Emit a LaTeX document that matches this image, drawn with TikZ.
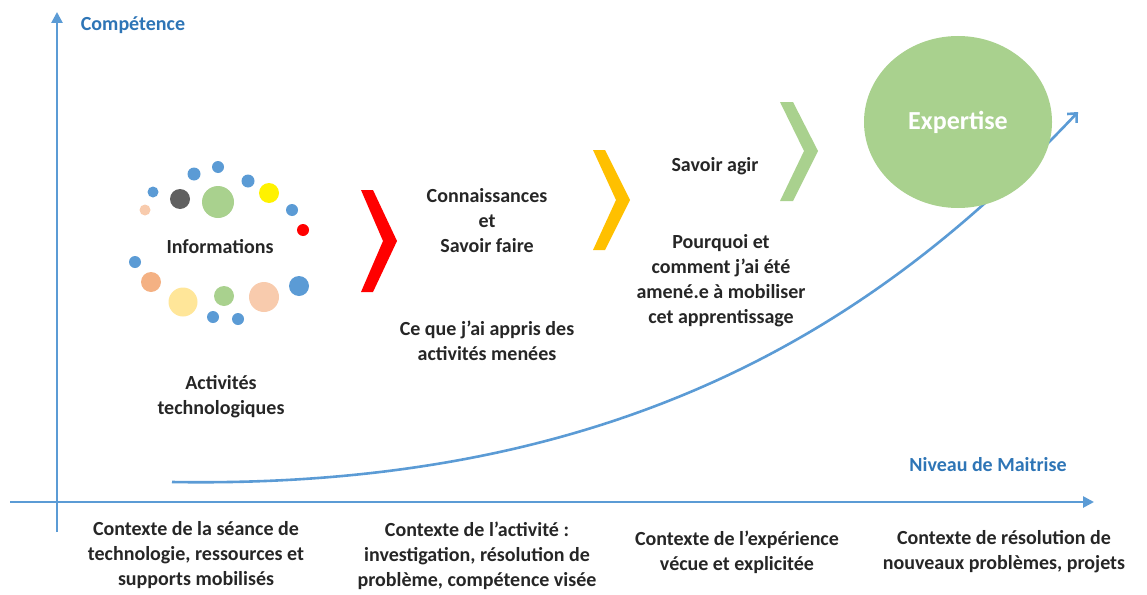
\documentclass[tikz,border=0pt]{standalone}
\usepackage{fontspec}
\setmainfont{Carlito}
\usetikzlibrary{arrows.meta, shapes.geometric}

\definecolor{axisblue}{HTML}{5B9BD5}
\definecolor{labelblue}{HTML}{2E75B6}
\definecolor{dotblue}{HTML}{5B9BD5}
\definecolor{dotgreen}{HTML}{A9D18E}
\definecolor{dotgrey}{HTML}{606060}
\definecolor{dotpeach}{HTML}{F8CBAD}
\definecolor{dotorange}{HTML}{F4B183}
\definecolor{dotcream}{HTML}{FFE699}
\definecolor{chevred}{HTML}{FF0000}
\definecolor{chevyellow}{HTML}{FFC000}
\definecolor{chevgreen}{HTML}{A9D18E}

\tikzset{
    txt/.style={font=\fontsize{20}{25}\selectfont\bfseries, align=center, text=black!85},
    axislabel/.style={font=\fontsize{20}{25}\selectfont\bfseries, text=labelblue},
    axisline/.style={draw=axisblue, line width=2.6pt, -{Triangle[length=11pt,width=11pt]}},
    growth/.style={draw=axisblue, line width=2.6pt, -{Straight Barb[length=7pt,width=13pt,line width=2.6pt]}},
}

\begin{document}
\begin{tikzpicture}[x=1pt, y=-1pt]
    \useasboundingbox (0,0) rectangle (1147,594);

    % Axes
    \coordinate (ybot) at (57,532);
    \coordinate (ytop) at (57,12);
    \coordinate (xleft) at (10,502);
    \coordinate (xright) at (1094,502);
    \draw[axisline] (ybot) -- (ytop);
    \draw[axisline] (xleft) -- (xright);

    \node[axislabel] (competence) at (133,25) {Compétence};
    \node[axislabel] (niveau) at (988,465) {Niveau de Maitrise};

    % Growth curve
    \coordinate (cstart) at (172,482);
    \coordinate (cend) at (1078,112);
    \draw[growth] (cstart) .. controls (650,490) and (900,300) .. (cend);

    % Scattered dots around Informations
    \foreach \x/\y/\r/\c in {153/192/5.5/dotblue, 145/210/5.5/dotpeach, 180/199/10/dotgrey,
        218/202/16/dotgreen, 194/174/6.5/dotblue, 218/167/6/dotblue, 248/181/6.5/dotblue,
        269/193/10/yellow, 292/210/6/dotblue, 303/230/6/chevred, 135/262/6/dotblue,
        151/282/10/dotorange, 183/302/14.5/dotcream, 224/296/10/dotgreen, 264/297/15/dotpeach,
        299/286/10/dotblue, 213/317/6/dotblue, 238/319/6/dotblue}
        \fill[\c] (\x,\y) circle (\r);

    \node[txt] (info) at (220,247) {Informations};
    \node[txt] (activites) at (221,397) {Activités\\technologiques};

    % Chevrons
    \fill[chevred] (361,190) -- ++(12,0) -- ++(24,51) -- ++(-24,51) -- ++(-12,0) -- ++(22,-51) -- cycle;
    \fill[chevyellow] (593,150) -- ++(12,0) -- ++(25,50) -- ++(-25,50) -- ++(-12,0) -- ++(23,-50) -- cycle;
    \fill[chevgreen] (780,102) -- ++(13,0) -- ++(25,49) -- ++(-25,50) -- ++(-13,0) -- ++(24,-50) -- cycle;

    \node[txt] (connaissances) at (487,221) {Connaissances\\et\\Savoir faire};
    \node[txt] (appris) at (487,341) {Ce que j’ai appris des\\activités menées};
    \node[txt] (agir) at (715,166) {Savoir agir};
    \node[txt] (pourquoi) at (721,281) {Pourquoi  et\\comment j’ai été\\amené.e à mobiliser\\cet apprentissage};

    % Expertise
    \node[ellipse, fill=chevgreen, minimum width=188pt, minimum height=172pt, inner sep=0pt,
        font=\fontsize{26}{30}\selectfont\bfseries, text=white] (expertise) at (958,122) {Expertise};

    % Contexts under the axis
    \node[txt] (ctxseance) at (196,555) {Contexte de la séance de\\technologie, ressources  et\\supports  mobilisés};
    \node[txt] (ctxactivite) at (477,556) {Contexte de l’activité :\\investigation, résolution de\\problème, compétence visée};
    \node[txt] (ctxexperience) at (737,552) {Contexte de l’expérience\\vécue et explicitée};
    \node[txt] (ctxresolution) at (1004,552) {Contexte de résolution  de\\nouveaux  problèmes, projets};
\end{tikzpicture}
\end{document}
